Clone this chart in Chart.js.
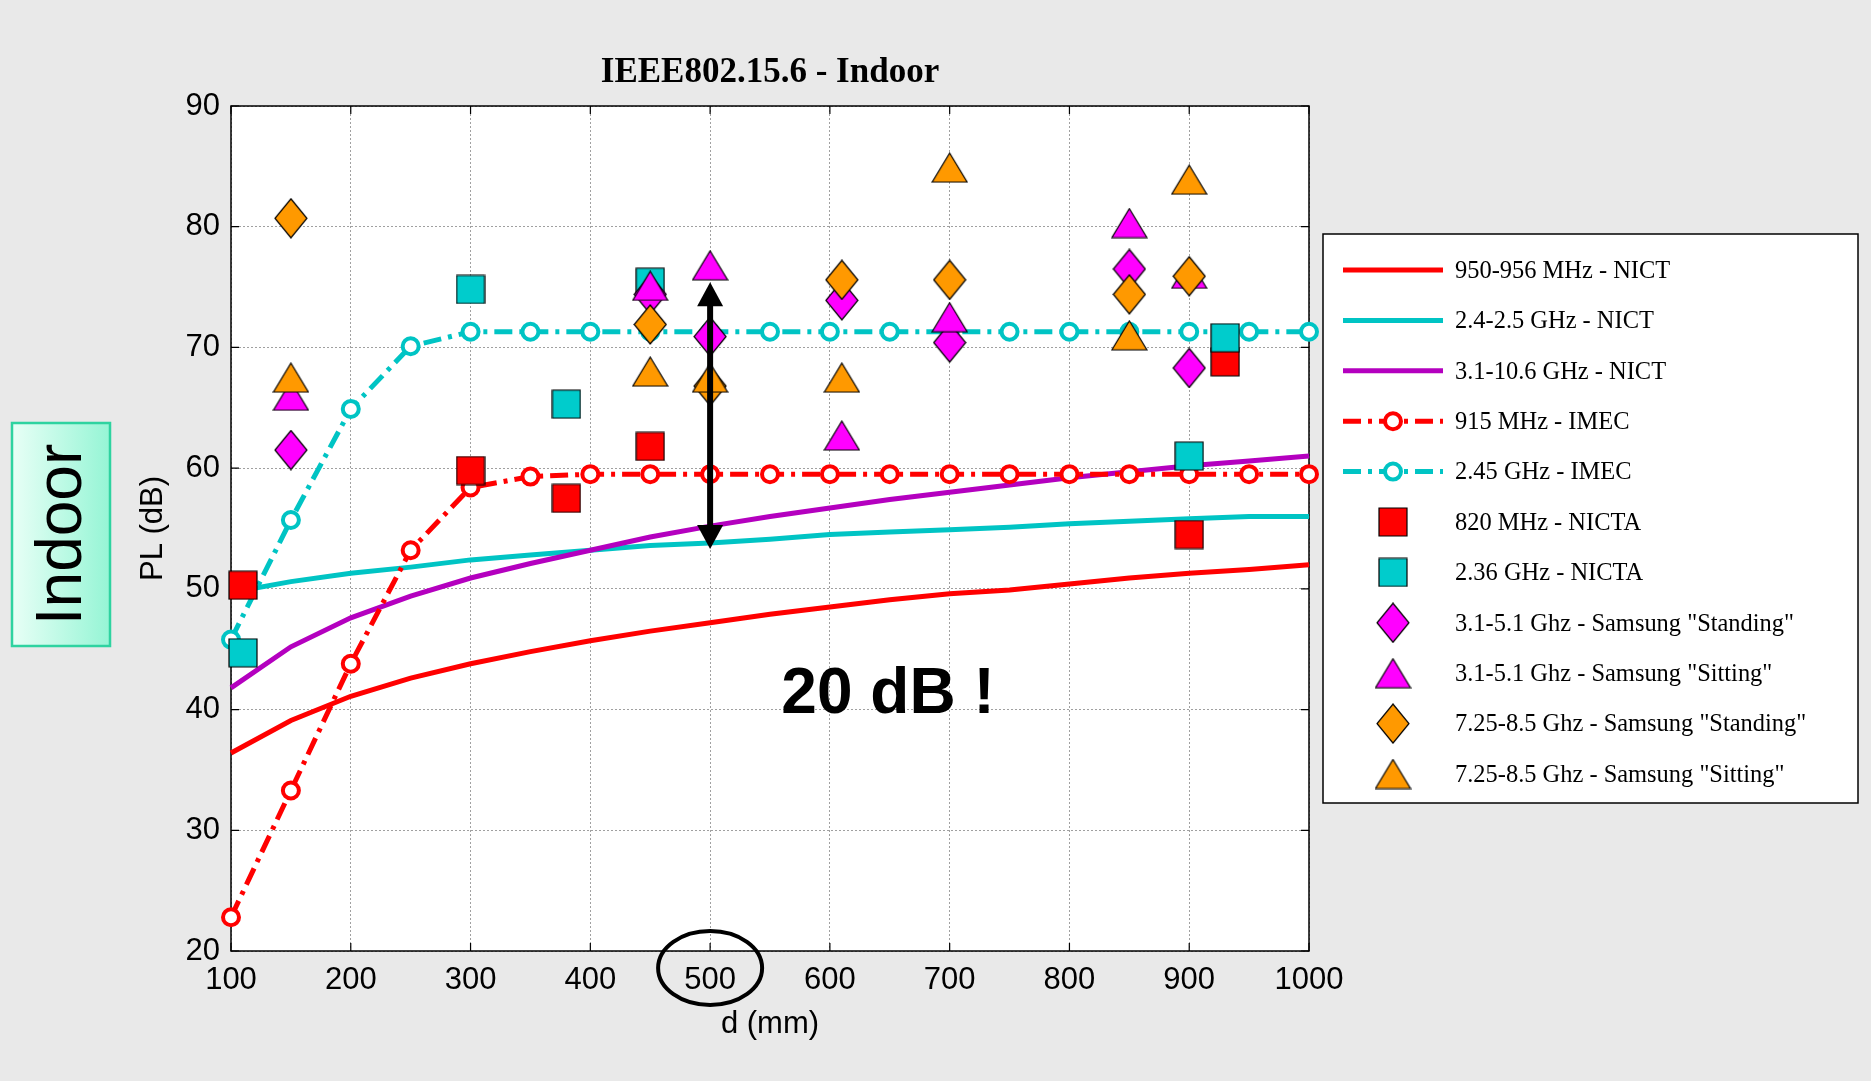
<!DOCTYPE html>
<html><head><meta charset="utf-8">
<script src="https://cdn.jsdelivr.net/npm/chart.js@4.4.1/dist/chart.umd.min.js"></script>
<style>
html,body{margin:0;padding:0;background:#e9e9e9;overflow:hidden}
#wrap{position:relative;width:1871px;height:1081px}
canvas{display:block}
</style></head>
<body><div id="wrap"><canvas id="c" width="1871" height="1081"></canvas></div>
<script>
// ---------------- DATA ----------------
const chartTitle = 'IEEE802.15.6 - Indoor';
const xTitle = 'd (mm)';
const yTitle = 'PL (dB)';
const sideLabel = 'Indoor';
const noteText = '20 dB !';

const xTicks = [100, 200, 300, 400, 500, 600, 700, 800, 900, 1000];
const yTicks = [20, 30, 40, 50, 60, 70, 80, 90];

const seriesNames = [
  '950-956 MHz - NICT',
  '2.4-2.5 GHz - NICT',
  '3.1-10.6 GHz - NICT',
  '915 MHz - IMEC',
  '2.45 GHz - IMEC',
  '820 MHz - NICTA',
  '2.36 GHz - NICTA',
  '3.1-5.1 Ghz - Samsung "Standing"',
  '3.1-5.1 Ghz - Samsung "Sitting"',
  '7.25-8.5 Ghz - Samsung "Standing"',
  '7.25-8.5 Ghz - Samsung "Sitting"'
];

// model curves (distance in mm)
const distances = [100,150,200,250,300,350,400,450,500,550,600,650,700,750,800,850,900,950,1000];
const nict950  = [36.4,39.1,41.1,42.6,43.8,44.8,45.7,46.5,47.2,47.9,48.5,49.1,49.6,49.9,50.4,50.9,51.3,51.6,52.0];
const nict24   = [49.7,50.6,51.3,51.8,52.4,52.8,53.2,53.6,53.8,54.1,54.5,54.7,54.9,55.1,55.4,55.6,55.8,56.0,56.0];
const nict31   = [41.8,45.2,47.6,49.4,50.9,52.1,53.2,54.3,55.2,56.0,56.7,57.4,58.0,58.6,59.2,59.7,60.2,60.6,61.0];
const imec915  = [22.8,33.3,43.8,53.2,58.4,59.3,59.5,59.5,59.5,59.5,59.5,59.5,59.5,59.5,59.5,59.5,59.5,59.5,59.5];
const imec245  = [45.8,55.7,64.9,70.1,71.3,71.3,71.3,71.3,71.3,71.3,71.3,71.3,71.3,71.3,71.3,71.3,71.3,71.3,71.3];

// measurements
const nicta820X = [110, 300, 380, 450, 900, 930];
const nicta820Y = [50.3, 59.8, 57.5, 61.8, 54.5, 68.8];
const nicta236X = [110, 300, 380, 450, 900, 930];
const nicta236Y = [44.7, 74.8, 65.3, 75.4, 61.0, 70.8];
const samsungX = [150, 450, 500, 610, 700, 850, 900];
const sam31StandY  = [61.5, 74.4, 70.9, 73.9, 70.4, 76.5, 68.3];
const sam31SitY    = [66.0, 75.1, 76.8, 62.7, 72.5, 80.3, 76.1];
const sam725StandY = [80.7, 71.9, 66.8, 75.6, 75.6, 74.4, 75.9];
const sam725SitY   = [67.5, 68.0, 67.5, 67.5, 84.9, 71.0, 83.9];

// annotation: arrow at d = 500 spanning the gap
const arrowX = 500;
const arrowFromY = 53.3;
const arrowToY = 75.4;

// ---------------- STYLE ----------------
const C_RED = '#ff0000', C_CYAN = '#00c4c4', C_PURPLE = '#b400bf', C_MAG = '#ff00ff', C_ORANGE = '#ff9900', C_SQCYAN = '#00cccc';
const SANS = '"Liberation Sans", Arial, sans-serif';
const SERIF = '"Liberation Serif", "Times New Roman", serif';

function makeMarker(shape, fill) {
  const cv = document.createElement('canvas');
  let w, h;
  if (shape === 'square') { w = 30; h = 30; }
  else if (shape === 'diamond') { w = 34; h = 41; }
  else { w = 37; h = 31; }
  cv.width = w; cv.height = h;
  const g = cv.getContext('2d');
  g.fillStyle = fill; g.strokeStyle = '#000'; g.lineWidth = 1.2; g.lineJoin = 'miter';
  g.beginPath();
  if (shape === 'square') { g.rect(1, 1, w - 2, h - 2); }
  else if (shape === 'diamond') { g.moveTo(w/2, 1); g.lineTo(w - 1, h/2); g.lineTo(w/2, h - 1); g.lineTo(1, h/2); g.closePath(); }
  else { g.moveTo(w/2, 1); g.lineTo(w - 1, h - 1); g.lineTo(1, h - 1); g.closePath(); }
  g.fill(); g.stroke();
  return cv;
}
const mkRedSq = makeMarker('square', C_RED);
const mkCySq = makeMarker('square', C_SQCYAN);
const mkMagDia = makeMarker('diamond', C_MAG);
const mkMagTri = makeMarker('triangle', C_MAG);
const mkOrDia = makeMarker('diamond', C_ORANGE);
const mkOrTri = makeMarker('triangle', C_ORANGE);

const DASHDOT = [18, 7, 4, 7];

function curveDS(label, ys, color, dashed) {
  return {
    label, data: distances.map((x, i) => ({x, y: ys[i]})), showLine: true,
    borderColor: color, backgroundColor: color, borderWidth: 5,
    borderDash: dashed ? DASHDOT : [], borderCapStyle: 'butt', tension: 0, fill: false,
    pointStyle: 'circle', pointRadius: dashed ? 8 : 0, pointBorderWidth: 4,
    pointBackgroundColor: '#ffffff', pointBorderColor: color, clip: false
  };
}
function markerDS(label, xs, ys, img) {
  return {
    label, data: xs.map((x, i) => ({x, y: ys[i]})), showLine: false,
    pointStyle: img, pointRadius: 15, clip: false
  };
}

const datasets = [
  curveDS(seriesNames[0], nict950, C_RED, false),
  curveDS(seriesNames[1], nict24, C_CYAN, false),
  curveDS(seriesNames[2], nict31, C_PURPLE, false),
  curveDS(seriesNames[3], imec915, C_RED, true),
  curveDS(seriesNames[4], imec245, C_CYAN, true),
  markerDS(seriesNames[5], nicta820X, nicta820Y, mkRedSq),
  markerDS(seriesNames[6], nicta236X, nicta236Y, mkCySq),
  markerDS(seriesNames[7], samsungX, sam31StandY, mkMagDia),
  markerDS(seriesNames[8], samsungX, sam31SitY, mkMagTri),
  markerDS(seriesNames[9], samsungX, sam725StandY, mkOrDia),
  markerDS(seriesNames[10], samsungX, sam725SitY, mkOrTri)
];
// later series drawn on top (as in the original)
datasets.forEach((d, i) => { d.order = datasets.length - i; });

// ---------------- PLUGIN ----------------
const decor = {
  id: 'decor',
  beforeDraw(chart) {
    const {ctx, chartArea: a} = chart;
    ctx.save();
    ctx.fillStyle = '#e9e9e9';
    ctx.fillRect(0, 0, chart.width, chart.height);
    ctx.fillStyle = '#ffffff';
    ctx.fillRect(a.left, a.top, a.right - a.left, a.bottom - a.top);
    ctx.restore();
  },
  beforeDatasetsDraw(chart) {
    const {ctx, chartArea: a, scales: {x, y}} = chart;
    ctx.save();
    ctx.strokeStyle = '#000'; ctx.lineWidth = 1.5;
    ctx.strokeRect(a.left, a.top, a.right - a.left, a.bottom - a.top);
    ctx.lineWidth = 1.2;
    const tl = 8;
    ctx.beginPath();
    xTicks.forEach(v => {
      const px = x.getPixelForValue(v);
      ctx.moveTo(px, a.bottom); ctx.lineTo(px, a.bottom - tl);
      ctx.moveTo(px, a.top); ctx.lineTo(px, a.top + tl);
    });
    yTicks.forEach(v => {
      const py = y.getPixelForValue(v);
      ctx.moveTo(a.left, py); ctx.lineTo(a.left + tl, py);
      ctx.moveTo(a.right, py); ctx.lineTo(a.right - tl, py);
    });
    ctx.stroke();
    ctx.restore();
  },
  afterDatasetsDraw(chart) {
    const {ctx, scales: {x, y}} = chart;
    ctx.save();
    // double arrow
    const ax = x.getPixelForValue(arrowX);
    const y1 = y.getPixelForValue(arrowToY);
    const y2 = y.getPixelForValue(arrowFromY);
    const hl = 24, hw = 13;
    ctx.strokeStyle = '#000'; ctx.fillStyle = '#000'; ctx.lineWidth = 6;
    ctx.beginPath(); ctx.moveTo(ax, y1 + hl - 2); ctx.lineTo(ax, y2 - hl + 2); ctx.stroke();
    ctx.beginPath(); ctx.moveTo(ax, y1); ctx.lineTo(ax + hw, y1 + hl); ctx.lineTo(ax - hw, y1 + hl); ctx.closePath(); ctx.fill();
    ctx.beginPath(); ctx.moveTo(ax, y2); ctx.lineTo(ax + hw, y2 - hl); ctx.lineTo(ax - hw, y2 - hl); ctx.closePath(); ctx.fill();
    // 20 dB note
    ctx.font = 'bold 64px ' + SANS;
    ctx.textAlign = 'center'; ctx.textBaseline = 'middle';
    ctx.fillText(noteText, 888, 695);
    ctx.restore();
  },
  afterDraw(chart) {
    const {ctx, chartArea: a, scales: {x}} = chart;
    ctx.save();
    // title
    ctx.fillStyle = '#000';
    ctx.font = 'bold 35px ' + SERIF;
    ctx.textAlign = 'center'; ctx.textBaseline = 'middle';
    ctx.fillText(chartTitle, 770, 73);
    // axis titles
    ctx.font = '31px ' + SANS;
    ctx.fillText(xTitle, (a.left + a.right) / 2, 1024);
    ctx.save();
    ctx.translate(153, (a.top + a.bottom) / 2);
    ctx.rotate(-Math.PI / 2);
    ctx.fillText(yTitle, 0, 0);
    ctx.restore();
    // ellipse around the 500 label
    ctx.strokeStyle = '#000'; ctx.lineWidth = 4;
    ctx.beginPath();
    ctx.ellipse(x.getPixelForValue(arrowX), 968, 52, 37, 0, 0, Math.PI * 2);
    ctx.stroke();
    // Indoor box
    const bx = 12, by = 423, bw = 98, bh = 223;
    const grad = ctx.createLinearGradient(bx, 0, bx + bw, 0);
    grad.addColorStop(0, '#e8fff6'); grad.addColorStop(1, '#95f5d5');
    ctx.fillStyle = grad; ctx.fillRect(bx, by, bw, bh);
    ctx.strokeStyle = '#2ed3a0'; ctx.lineWidth = 2.5; ctx.strokeRect(bx, by, bw, bh);
    ctx.save();
    ctx.translate(bx + bw / 2 + 2, by + bh / 2);
    ctx.rotate(-Math.PI / 2);
    ctx.fillStyle = '#000'; ctx.font = '64px ' + SANS;
    ctx.textAlign = 'center'; ctx.textBaseline = 'middle';
    ctx.fillText(sideLabel, 0, 0);
    ctx.restore();
    // legend
    const lx = 1323, ly = 234, lw = 535, lh = 569;
    ctx.fillStyle = '#fff'; ctx.fillRect(lx, ly, lw, lh);
    ctx.strokeStyle = '#000'; ctx.lineWidth = 1.5; ctx.strokeRect(lx, ly, lw, lh);
    const ds = chart.data.datasets;
    ds.forEach((d, i) => {
      const cy = 270 + i * 50.4;
      const x0 = 1343, x1 = 1443, xm = 1393;
      if (d.showLine) {
        ctx.save();
        ctx.strokeStyle = d.borderColor; ctx.lineWidth = d.borderWidth;
        ctx.setLineDash(d.borderDash || []);
        ctx.beginPath(); ctx.moveTo(x0, cy); ctx.lineTo(x1, cy); ctx.stroke();
        ctx.restore();
        if (d.pointRadius > 0) {
          ctx.save();
          ctx.fillStyle = d.pointBackgroundColor; ctx.strokeStyle = d.pointBorderColor; ctx.lineWidth = d.pointBorderWidth;
          ctx.beginPath(); ctx.arc(xm, cy, d.pointRadius, 0, Math.PI * 2); ctx.fill(); ctx.stroke();
          ctx.restore();
        }
      } else {
        const img = d.pointStyle;
        ctx.drawImage(img, xm - img.width / 2, cy - img.height / 2);
      }
      ctx.save();
      ctx.fillStyle = '#000'; ctx.font = '26px ' + SERIF;
      ctx.textAlign = 'left'; ctx.textBaseline = 'middle';
      ctx.translate(1455, cy + 1);
      ctx.scale(0.94, 1);
      ctx.fillText(d.label, 0, 0);
      ctx.restore();
    });
    ctx.restore();
  }
};

new Chart(document.getElementById('c'), {
  type: 'scatter',
  data: { datasets },
  options: {
    responsive: false,
    animation: false,
    events: [],
    layout: { padding: { top: 106, right: 562, left: 0, bottom: 0 } },
    plugins: { legend: { display: false }, title: { display: false }, tooltip: { enabled: false } },
    scales: {
      x: {
        type: 'linear', min: 100, max: 1000,
        afterFit(s) { s.height = 130; },
        afterBuildTicks(s) { s.ticks = xTicks.map(v => ({value: v})); },
        ticks: { color: '#000', font: { family: SANS, size: 31 }, padding: 11, maxRotation: 0, autoSkip: false,
                 callback: v => String(v) },
        grid: { color: 'rgba(120,120,120,0.7)', lineWidth: 1, drawTicks: false },
        border: { display: false, dash: [2, 2] }
      },
      y: {
        type: 'linear', min: 20, max: 90,
        afterFit(s) { s.width = 231; },
        afterBuildTicks(s) { s.ticks = yTicks.map(v => ({value: v})); },
        ticks: { color: '#000', font: { family: SANS, size: 31 }, padding: 11, autoSkip: false,
                 callback: v => String(v) },
        grid: { color: 'rgba(120,120,120,0.7)', lineWidth: 1, drawTicks: false },
        border: { display: false, dash: [2, 2] }
      }
    }
  },
  plugins: [decor]
});
</script>
</body></html>
